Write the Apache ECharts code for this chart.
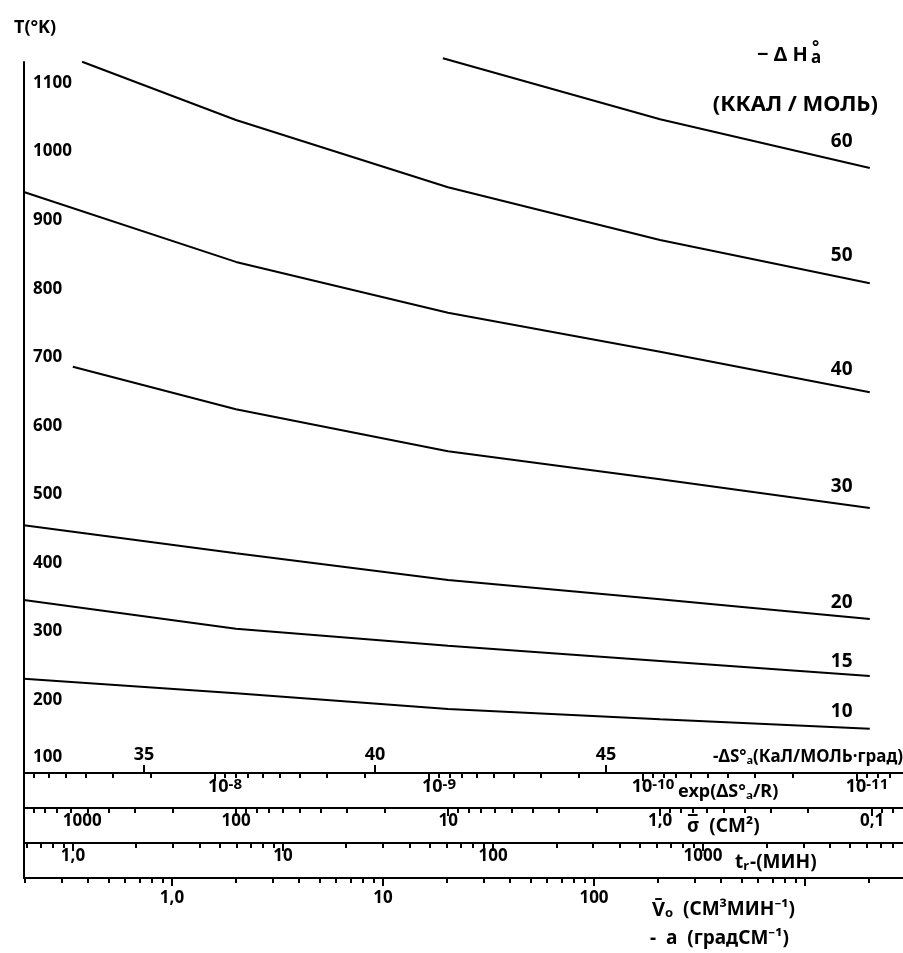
<!DOCTYPE html>
<html><head><meta charset="utf-8">
<script src="https://cdn.jsdelivr.net/npm/echarts@6/dist/echarts.min.js"></script>
<style>html,body{margin:0;padding:0;background:#fff}#c{width:903px;height:953px}</style>
</head><body><div id="c"></div>
<script>
// ---------------- data ----------------
// x values are -ΔS°a (кал/моль·град), y values are T (°K)
const curveNames = ['60', '50', '40', '30', '20', '15', '10'];
const dS60 = [41.47, 46.17, 50.71];
const T60  = [1136, 1047, 976];
const dS50 = [33.66, 36.99, 41.58, 46.17, 50.71];
const T50  = [1131, 1046, 948, 871, 808];
const dS40 = [32.40, 36.99, 41.58, 46.17, 50.71];
const T40  = [941, 839, 765, 708, 649];
const dS30 = [33.46, 36.99, 41.58, 46.17, 50.71];
const T30  = [686, 624, 563, 522, 480];
const dSlow = [32.40, 36.99, 41.58, 46.17, 50.71];
const T20  = [455, 414, 375, 347, 318];
const T15  = [346, 304, 279, 257, 235];
const T10  = [231, 210, 187, 172, 158];

// tick values / labels
const yTicks = [100, 200, 300, 400, 500, 600, 700, 800, 900, 1000, 1100];
const dSTicks = [35, 40, 45];
const expDecades = [-8, -9, -10, -11];           // exp(ΔS/R) = 10^n
const sigmaTicks = [1000, 100, 10, 1, 0.1];
const sigmaLabels = ['1000', '100', '10', '1,0', '0,1'];
const trTicks = [1, 10, 100, 1000];
const trLabels = ['1,0', '10', '100', '1000'];
const v0Ticks = [1, 10, 100, 1000];
const v0LabelTicks = [1, 10, 100];
const v0Labels = ['1,0', '10', '100'];

// ---------------- scale calibration of the nomogram axes ----------------
const dSRange = [32.403, 51.429];
const expRange = [-11.215, -7.1075];   // log10 exp(ΔS/R)
const sigmaRange = [-1.146, 3.001];    // log10 σ
const trRange = [-0.2333, 3.952];      // log10 t_r
const v0Range = [-0.7014, 3.4645];     // log10 V0

const FONT = "'Noto Sans', 'DejaVu Sans', sans-serif";
const BLACK = '#000';

function logMinor(r) {
  const out = [];
  for (let n = Math.floor(r[0]) - 1; n <= Math.ceil(r[1]); n++) {
    for (let k = 2; k <= 9; k++) {
      const v = n + Math.log10(k);
      if (v >= r[0] && v <= r[1]) out.push(v);
    }
  }
  return out;
}
function logMajor(vals, r) {
  return vals.map(v => Math.log10(v)).filter(v => v >= r[0] - 1e-9 && v <= r[1] + 1e-9);
}
function pickLabel(v, ticks, labels) {
  let best = 0, bd = Infinity;
  ticks.forEach((t, i) => { const d = Math.abs(Math.log10(t) - v); if (d < bd) { bd = d; best = i; } });
  return labels[best];
}

function axis(o) {
  return Object.assign({
    type: 'value', gridIndex: 0, position: 'bottom', offset: 0,
    axisLine: { show: false, onZero: false, lineStyle: { color: BLACK, width: 2 } },
    axisTick: { show: false },
    axisLabel: { show: false },
    splitLine: { show: false }
  }, o);
}

const labelStyle = { color: BLACK, fontFamily: FONT, fontSize: 17, fontWeight: 'bold' };

const xAxes = [
  // 0: -ΔS axis (line y=773, ticks upward, labels above)
  axis({
    min: dSRange[0], max: dSRange[1], offset: -105,
    axisLine: { show: true, onZero: false, lineStyle: { color: BLACK, width: 2 } },
    axisTick: { show: true, inside: true, length: 8, customValues: dSTicks, lineStyle: { color: BLACK, width: 2 } },
    axisLabel: { show: true, inside: true, margin: 9, customValues: dSTicks, ...labelStyle, fontSize: 18 }
  }),
  // 1: exp major
  axis({
    min: expRange[0], max: expRange[1], inverse: true, offset: -105,
    axisTick: { show: true, length: 8, customValues: expDecades, lineStyle: { color: BLACK, width: 2 } },
    axisLabel: {
      show: true, margin: 4, customValues: expDecades, color: BLACK, fontFamily: FONT,
      formatter: v => '{b|10}{s|' + Math.round(v) + '}',
      rich: {
        b: { fontSize: 18, fontWeight: 'bold', fontFamily: FONT, color: BLACK, verticalAlign: 'bottom', lineHeight: 19, padding: [0, 0, 0, 20] },
        s: { fontSize: 15, fontWeight: 'bold', fontFamily: FONT, color: BLACK, verticalAlign: 'top', lineHeight: 15, padding: [0, 0, 17, 0] }
      }
    }
  }),
  // 2: exp minor
  axis({
    min: expRange[0], max: expRange[1], inverse: true, offset: -105,
    axisTick: { show: true, length: 5, customValues: logMinor(expRange), lineStyle: { color: BLACK, width: 2 } }
  }),
  // 3: sigma major (line y=808)
  axis({
    min: sigmaRange[0], max: sigmaRange[1], inverse: true, offset: -70,
    axisLine: { show: true, onZero: false, lineStyle: { color: BLACK, width: 2 } },
    axisTick: { show: true, length: 8, customValues: logMajor(sigmaTicks, sigmaRange), lineStyle: { color: BLACK, width: 2 } },
    axisLabel: {
      show: true, margin: 5, customValues: logMajor(sigmaTicks, sigmaRange), color: BLACK,
      formatter: v => {
        const s = pickLabel(v, sigmaTicks, sigmaLabels);
        return s === '1000' ? '{p|' + s + '}' : '{n|' + s + '}';
      },
      rich: {
        n: { fontSize: 17, fontWeight: 'bold', fontFamily: FONT, color: BLACK },
        p: { fontSize: 17, fontWeight: 'bold', fontFamily: FONT, color: BLACK, padding: [0, 0, 0, 116] }
      }
    }
  }),
  // 4: sigma minor
  axis({
    min: sigmaRange[0], max: sigmaRange[1], inverse: true, offset: -70,
    axisTick: { show: true, length: 5, customValues: logMinor(sigmaRange), lineStyle: { color: BLACK, width: 2 } }
  }),
  // 5: t_r major (line y=843)
  axis({
    min: trRange[0], max: trRange[1], offset: -35,
    axisLine: { show: true, onZero: false, lineStyle: { color: BLACK, width: 2 } },
    axisTick: { show: true, length: 8, customValues: logMajor(trTicks, trRange), lineStyle: { color: BLACK, width: 2 } },
    axisLabel: {
      show: true, margin: 5, customValues: logMajor(trTicks, trRange), ...labelStyle,
      formatter: v => pickLabel(v, trTicks, trLabels)
    }
  }),
  // 6: t_r minor
  axis({
    min: trRange[0], max: trRange[1], offset: -35,
    axisTick: { show: true, length: 5, customValues: logMinor(trRange), lineStyle: { color: BLACK, width: 2 } }
  }),
  // 7: V0 major (line y=878)
  axis({
    min: v0Range[0], max: v0Range[1], offset: 0,
    axisLine: { show: true, onZero: false, lineStyle: { color: BLACK, width: 2 } },
    axisTick: { show: true, length: 8, customValues: logMajor(v0Ticks, v0Range), lineStyle: { color: BLACK, width: 2 } },
    axisLabel: {
      show: true, margin: 12, customValues: logMajor(v0LabelTicks, v0Range), ...labelStyle,
      formatter: v => pickLabel(v, v0LabelTicks, v0Labels)
    }
  }),
  // 8: V0 minor
  axis({
    min: v0Range[0], max: v0Range[1], offset: 0,
    axisTick: { show: true, length: 5, customValues: logMinor(v0Range), lineStyle: { color: BLACK, width: 2 } }
  })
];

const labelDy = { '60': -26, '50': -28, '40': -23, '30': -21, '20': -17, '15': -14, '10': -17 };
const seriesSrc = [
  ['60', dS60, T60], ['50', dS50, T50], ['40', dS40, T40], ['30', dS30, T30],
  ['20', dSlow, T20], ['15', dSlow, T15], ['10', dSlow, T10]
];
const series = seriesSrc.map(([name, xs, ys]) => ({
  name, type: 'line', xAxisIndex: 0, yAxisIndex: 0,
  data: xs.map((x, i) => [x, ys[i]]),
  showSymbol: false, symbol: 'none', clip: false, smooth: false,
  lineStyle: { color: BLACK, width: 2 },
  endLabel: {
    show: true, formatter: name, color: BLACK, fontFamily: FONT, fontSize: 19, fontWeight: 'bold',
    offset: [-47, labelDy[name]]
  },
  emphasis: { disabled: true }
}));

function txt(x, y, text, extra) {
  return {
    type: 'text', x, y, silent: true,
    style: Object.assign({ text, fill: BLACK, font: 'bold 17px ' + FONT, textAlign: 'left', textVerticalAlign: 'middle' }, extra || {})
  };
}

const graphics = [
  txt(14, 28, 'T(°K)', { font: 'bold 18px ' + FONT }),
  txt(757, 55, '− Δ H', { font: 'bold 20px ' + FONT }),
  txt(811, 58, 'a', { font: 'bold 17px ' + FONT }),
  txt(812, 48, '°', { font: 'bold 17px ' + FONT }),
  txt(878, 105, '(ККАЛ / МОЛЬ)', { font: 'bold 22px ' + FONT, textAlign: 'right' }),
  txt(903, 757, '-ΔS°ₐ(КаЛ/МОЛЬ·град)', { font: 'bold 17px ' + FONT, textAlign: 'right' }),
  txt(678, 792, 'exp(ΔS°ₐ/R)', { font: 'bold 18px ' + FONT }),
  txt(687, 827, 'σ  (СМ²)', { font: 'bold 19px ' + FONT }),
  txt(688, 826, '¯', { font: 'bold 19px ' + FONT }),
  {
    type: 'text', x: 735, y: 863, silent: true,
    style: {
      text: '{n|t}{s|r}{n|-(МИН)}', textVerticalAlign: 'middle',
      rich: {
        n: { font: 'bold 19px ' + FONT, fill: BLACK, verticalAlign: 'top' },
        s: { font: 'bold 13px ' + FONT, fill: BLACK, verticalAlign: 'bottom', padding: [6, 1, 0, 0] }
      }
    }
  },
  {
    type: 'text', x: 652, y: 910, silent: true,
    style: {
      text: '{b|V̄}{s|o}{n|  (СМ³МИН⁻¹)}', textVerticalAlign: 'middle',
      rich: {
        b: { font: 'bold 20px ' + FONT, fill: BLACK, verticalAlign: 'top' },
        s: { font: 'bold 13px ' + FONT, fill: BLACK, verticalAlign: 'bottom', padding: [7, 0, 0, 0] },
        n: { font: 'bold 19px ' + FONT, fill: BLACK, verticalAlign: 'top' }
      }
    }
  },
  txt(650, 939, '-  a  (градСМ⁻¹)', { font: 'bold 19px ' + FONT })
];

const chart = echarts.init(document.getElementById('c'), null, { renderer: 'canvas' });
chart.setOption({
  backgroundColor: '#fff',
  animation: false,
  grid: { left: 24, right: 0, top: 62, bottom: 75, containLabel: false },
  xAxis: xAxes,
  yAxis: {
    type: 'value', min: -59.6, max: 1130.6, position: 'left',
    axisLine: { show: true, onZero: false, lineStyle: { color: BLACK, width: 2 } },
    axisTick: { show: false },
    splitLine: { show: false },
    axisLabel: {
      show: true, inside: true, margin: 9, customValues: yTicks,
      formatter: v => (v === 100 ? '{lo|' + v + '}' : '{n|' + v + '}'),
      rich: {
        n: { fontSize: 17, fontWeight: 'bold', fontFamily: FONT, color: BLACK },
        lo: { fontSize: 17, fontWeight: 'bold', fontFamily: FONT, color: BLACK, padding: [0, 0, 22, 0] }
      }
    }
  },
  series,
  graphic: graphics
});
</script>
</body></html>
